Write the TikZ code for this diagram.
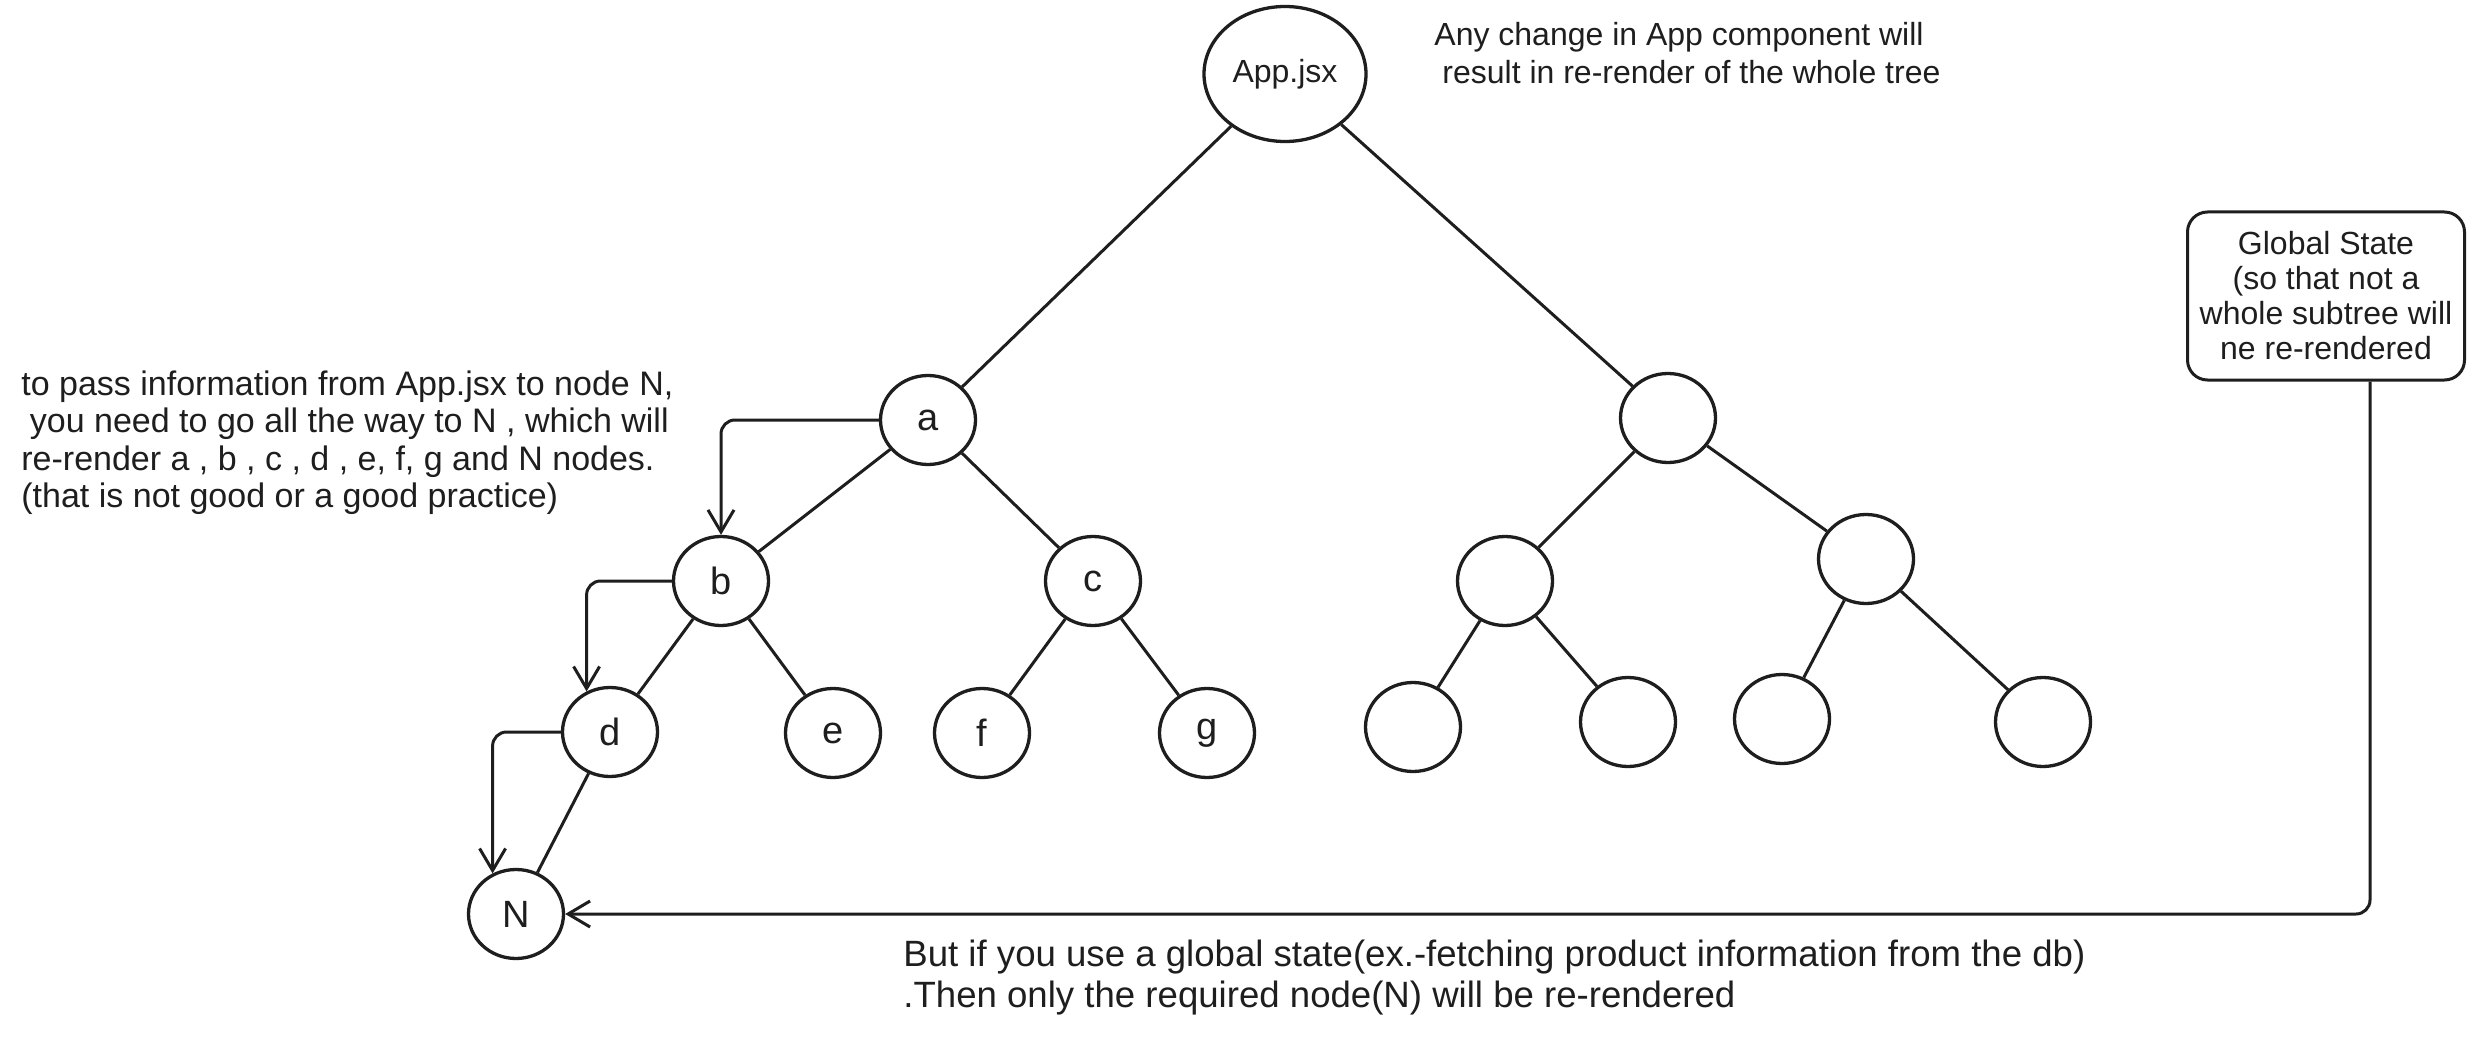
\documentclass[tikz,border=0pt]{standalone}
\usepackage{fontspec}
\setmainfont{Liberation Sans}
\usetikzlibrary{shapes.geometric,arrows.meta,calc}
\definecolor{ink}{HTML}{1E1E1E}
\begin{document}
\begin{tikzpicture}[x=0.5pt,y=-0.5pt,
  every node/.style={font=\fontsize{16pt}{19pt}\selectfont, text=ink},
  tn/.style={ellipse, draw=ink, line width=1.65pt, minimum width=47.5pt, minimum height=44.5pt, inner sep=0pt, font=\fontsize{19pt}{22pt}\selectfont},
  edge/.style={draw=ink, line width=1.5pt},
  arr/.style={draw=ink, line width=1.5pt, rounded corners=7pt, -{Straight Barb[length=11pt,width=13pt,line width=1.5pt]}},
  note/.style={align=left, inner sep=0pt, anchor=north west}
]
\useasboundingbox (0,0) rectangle (2484,1043);
\fill[white] (0,0) rectangle (2484,1043);

% tree nodes
\node[tn, minimum width=81pt, minimum height=67.5pt, font=\fontsize{16pt}{19pt}\selectfont] (app) at (1285,74) {App.jsx};
\node[tn] (a) at (928,420) {a};
\node[tn] (r1) at (1668,418) {};
\node[tn] (b) at (721,581) {b};
\node[tn] (c) at (1093,581) {c};
\node[tn] (d) at (610,732) {d};
\node[tn] (e) at (833,733) {e};
\node[tn] (f) at (982,733) {f};
\node[tn] (g) at (1207,733) {g};
\node[tn] (N) at (516,914) {N};
\node[tn] (r2) at (1505,581) {};
\node[tn] (r3) at (1866,559) {};
\node[tn] (l1) at (1413,727) {};
\node[tn] (l2) at (1628,722) {};
\node[tn] (l3) at (1782,719) {};
\node[tn] (l4) at (2043,722) {};

% global state box
\node[draw=ink, line width=1.5pt, rounded corners=10pt, minimum width=138.5pt, minimum height=84pt, align=center, inner sep=2pt, font=\fontsize{16pt}{17.5pt}\selectfont] (gs) at (2326,296) {Global State\\(so that not a\\whole subtree will\\ne re-rendered};

% texts
\node[note] (t1) at (1434,22) {Any change in App component will\\\hspace*{0.25em}result in re-render of the whole tree};
\node[note, font=\fontsize{17pt}{18.75pt}\selectfont] (t2) at (21,370) {to pass information from App.jsx to node N,\\\hspace*{0.25em}you need to go all the way to N , which will\\re-render a , b , c , d , e, f, g and N nodes.\\(that is not good or a good practice)};
\node[note, font=\fontsize{18.3pt}{20.5pt}\selectfont] (t3) at (903,940) {But if you use a global state(ex.-fetching product information from the db)\\.Then only the required node(N) will be re-rendered};

% edges
\draw[edge] (app) -- (a);
\draw[edge] (app) -- (r1);
\draw[edge] (a) -- (b);
\draw[edge] (a) -- (c);
\draw[edge] (b) -- (d);
\draw[edge] (b) -- (e);
\draw[edge] (c) -- (f);
\draw[edge] (c) -- (g);
\draw[edge] (d) -- (N);
\draw[edge] (r1) -- (r2);
\draw[edge] (r1) -- (r3);
\draw[edge] (r2) -- (l1);
\draw[edge] (r2) -- (l2);
\draw[edge] (r3) -- (l3);
\draw[edge] (r3) -- (l4);

% arrows
\draw[arr] (a.west) -| (b.north);
\draw[arr] (b.west) -| (d.120);
\draw[arr] (d.west) -| (N.120);
\draw[arr] ([xshift=22pt]gs.south) |- (N.east);
\end{tikzpicture}
\end{document}
